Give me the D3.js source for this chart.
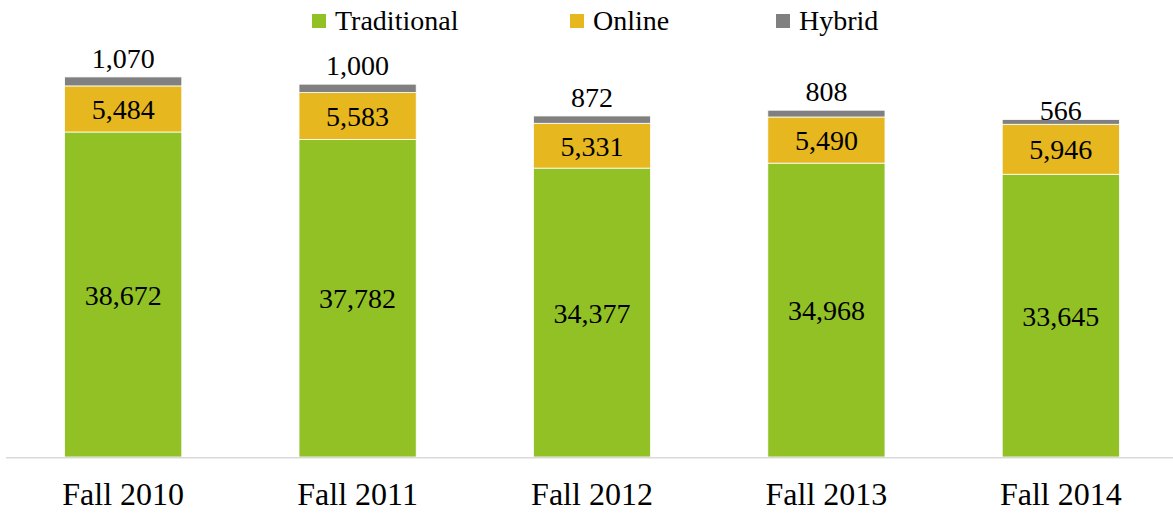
<!DOCTYPE html>
<html>
<head>
<meta charset="utf-8">
<script src="https://cdn.jsdelivr.net/npm/d3@7"></script>
<style>
  body { margin: 0; background: #fff; }
  svg text { font-family: "Liberation Serif", "Times New Roman", serif; fill: #000; }
</style>
</head>
<body>
<div id="chart"></div>
<script>
// data
var terms = ["Fall 2010", "Fall 2011", "Fall 2012", "Fall 2013", "Fall 2014"];
var traditional = [38672, 37782, 34377, 34968, 33645];
var online = [5484, 5583, 5331, 5490, 5946];
var hybrid = [1070, 1000, 872, 808, 566];
var seriesNames = ["Traditional", "Online", "Hybrid"];

var colors = {Traditional: "#92c125", Online: "#e6b71e", Hybrid: "#808080"};
var serif = "'Liberation Serif', 'Times New Roman', serif";
// the 2014 hybrid label sits lower in the original
var hybridNudge = [0, 0, 0, 0, 9];

var width = 1173, height = 513;
var baseY = 457;

var svg = d3.select("#chart").append("svg")
    .attr("width", width)
    .attr("height", height);

var data = terms.map(function(t, i){
  return {term: t, Traditional: traditional[i], Online: online[i], Hybrid: hybrid[i]};
});

var x = d3.scaleBand()
    .domain(terms)
    .range([6, 1178])
    .paddingInner(0.5)
    .paddingOuter(0.25);

var y = d3.scaleLinear()
    .domain([0, 50000])
    .range([baseY, 36.8]);

var stacked = d3.stack().keys(seriesNames)(data);

svg.append("g")
   .selectAll("g")
   .data(stacked)
   .enter().append("g")
   .attr("fill", function(d){ return colors[d.key]; })
   .selectAll("rect")
   .data(function(d){ return d; })
   .enter().append("rect")
   .attr("x", function(d){ return x(d.data.term); })
   .attr("y", function(d){ return y(d[1]); })
   .attr("width", x.bandwidth())
   .attr("height", function(d){ return y(d[0]) - y(d[1]); })
   .attr("stroke", "#fff")
   .attr("stroke-width", 0.8);

// axis line
svg.append("line")
   .attr("x1", 6).attr("x2", width)
   .attr("y1", baseY + 0.7).attr("y2", baseY + 0.7)
   .attr("stroke", "#d9d9d9")
   .attr("stroke-width", 1.5);

var xAxis = d3.axisBottom(x).tickSize(0).tickPadding(0);
var gx = svg.append("g")
   .attr("transform", "translate(0," + baseY + ")")
   .call(xAxis);
gx.select(".domain").remove();
gx.selectAll(".tick text")
  .attr("y", 48)
  .attr("dy", 0)
  .style("font-family", serif)
  .style("font-size", "32px")
  .attr("fill", "#000");

var fmt = d3.format(",");

// labels inside traditional and online segments
stacked.slice(0, 2).forEach(function(s){
  svg.append("g").selectAll("text")
     .data(s)
     .enter().append("text")
     .attr("x", function(d){ return x(d.data.term) + x.bandwidth() / 2; })
     .attr("y", function(d){ return (y(d[0]) + y(d[1])) / 2 + 10; })
     .attr("text-anchor", "middle")
     .style("font-family", serif)
     .style("font-size", "28px")
     .text(function(d){ return fmt(d[1] - d[0]); });
});

// hybrid labels above bars
svg.append("g").selectAll("text")
   .data(stacked[2])
   .enter().append("text")
   .attr("x", function(d){ return x(d.data.term) + x.bandwidth() / 2; })
   .attr("y", function(d, i){ return y(d[1]) - 9 + hybridNudge[i]; })
   .attr("text-anchor", "middle")
   .style("font-family", serif)
   .style("font-size", "28px")
   .text(function(d){ return fmt(d[1] - d[0]); });

// legend
var legendX = [312, 570, 776];
var legend = svg.append("g").selectAll("g")
   .data(seriesNames)
   .enter().append("g")
   .attr("transform", function(d, i){ return "translate(" + legendX[i] + ",14)"; });
legend.append("rect")
   .attr("width", 14).attr("height", 14)
   .attr("fill", function(d){ return colors[d]; });
legend.append("text")
   .attr("x", 23)
   .attr("y", 16)
   .style("font-family", serif)
   .style("font-size", "28px")
   .text(function(d){ return d; });
</script>
</body>
</html>
